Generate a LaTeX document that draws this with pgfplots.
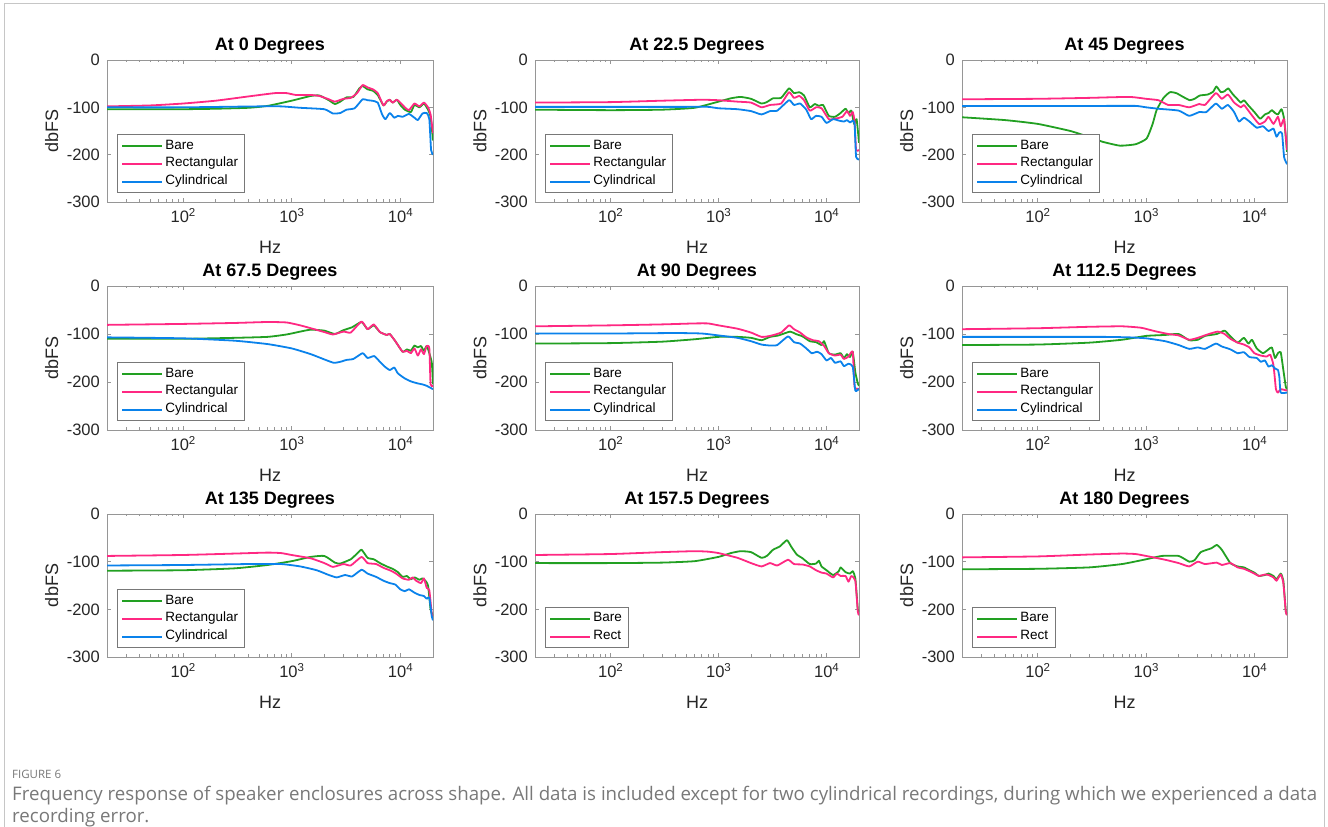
\documentclass[border=0pt]{standalone}
\usepackage{fontspec}
\setmainfont{Liberation Sans}
\newfontfamily\capfont{Open Sans}
\usepackage{pgfplots}
\pgfplotsset{compat=1.18}

\definecolor{cbare}{RGB}{34,160,34}
\definecolor{crect}{RGB}{255,40,130}
\definecolor{ccyl}{RGB}{10,130,235}
\definecolor{axgray}{RGB}{150,150,150}
\definecolor{legray}{RGB}{120,120,120}
\definecolor{ticktext}{RGB}{38,38,38}
\definecolor{captext}{RGB}{120,120,120}

\newcommand\pw[1]{10\raisebox{0.42em}{\fontsize{11.5}{12}\selectfont #1}}

\pgfplotsset{
  mypanel/.style={
    scale only axis,
    xmin=20, xmax=20000, ymin=-300, ymax=0,
    xtick={100,1000,10000},
    xticklabels={\pw{2},\pw{3},\pw{4}},
    minor xtick={30,40,50,60,70,80,90,200,300,400,500,600,700,800,900,2000,3000,4000,5000,6000,7000,8000,9000},
    ytick={-300,-200,-100,0},
    yticklabels={-300,-200,-100,0},
    tick align=inside,
    major tick length=4pt, minor tick length=2.5pt,
    axis line style={draw=axgray, line width=0.8pt},
    every tick/.style={draw=axgray, line width=0.8pt},
    xticklabel style={font=\fontsize{16.5}{19}\selectfont, text=ticktext, anchor=base, yshift=-21pt, inner sep=0pt},
    yticklabel style={font=\fontsize{16.5}{19}\selectfont, text=ticktext, anchor=east, inner sep=0pt, xshift=-7pt},
    xlabel={Hz}, ylabel={dbFS},
    xlabel style={font=\fontsize{18}{20}\selectfont, text=ticktext, at={(axis description cs:0.5,0)}, anchor=base, yshift=-52pt, inner sep=0pt},
    ylabel style={font=\fontsize{18}{20}\selectfont, text=ticktext, at={(axis description cs:-0.1503,0.5)}, anchor=base, inner sep=0pt},
    title style={font=\bfseries\fontsize{18}{20}\selectfont, at={(axis description cs:0.5,1)}, anchor=base, yshift=3pt, inner sep=0pt},
    legend style={at={(axis description cs:0,0)}, anchor=south west, xshift=10pt, yshift=9pt,
      draw=legray, fill=white, line width=0.8pt, font=\fontsize{13.5}{15}\selectfont,
      inner xsep=4pt, inner ysep=2pt, row sep=0pt,
      nodes={inner sep=2.2pt, text height=10pt, text depth=3.5pt}},
    legend cell align=left,
    legend image code/.code={\draw[##1] (0pt,0pt) -- (40pt,0pt);},
    every axis plot/.append style={line width=1.8pt, line join=round, smooth, tension=0.3},
  },
}

\begin{document}
\begin{tikzpicture}
\useasboundingbox (0pt,0pt) rectangle (1328pt,827pt);
\draw[draw=gray!45, line width=1pt] (4pt,0pt) -- (4pt,823pt) -- (1324pt,823pt) -- (1324pt,0pt);

% ---------- row 1 ----------
\begin{semilogxaxis}[mypanel, at={(107pt,767pt)}, anchor=north west, width=326pt, height=142pt, title={At 0 Degrees}]
\addplot[cbare] coordinates {(20,-104)(50,-104)(100,-104)(200,-103)(400,-101)(600,-97)(1000,-86)(1500,-76)(1800,-75)(2200,-85)(2500,-93)(2800,-88)(3200,-79)(3700,-78)(4200,-60)(4500,-55)(5000,-62)(5600,-65)(6200,-74)(7000,-96)(7500,-88)(8000,-84)(8500,-90)(9300,-84)(10000,-95)(11000,-105)(12500,-110)(13500,-95)(15000,-100)(16500,-92)(18000,-105)(19000,-120)(20000,-170)};
\addplot[crect] coordinates {(20,-98)(50,-96)(100,-92)(200,-86)(400,-77)(700,-70)(900,-70)(1100,-74)(1500,-74)(1800,-76)(2200,-83)(2500,-88)(3000,-82)(3500,-80)(4000,-70)(4500,-53)(5000,-58)(5600,-62)(6200,-70)(7000,-96)(7500,-87)(8000,-84)(8500,-90)(9300,-84)(10000,-90)(11000,-100)(12000,-106)(13500,-92)(15000,-98)(16500,-90)(18000,-100)(19000,-115)(20000,-155)};
\addplot[ccyl] coordinates {(20,-100)(100,-100)(500,-98)(800,-98)(1200,-101)(2000,-104)(2400,-113)(2800,-112)(3200,-105)(3800,-102)(4500,-83)(5000,-85)(5500,-86)(6200,-90)(6800,-115)(7300,-125)(8000,-112)(8800,-122)(9500,-118)(10500,-120)(12000,-114)(13500,-122)(14500,-127)(16000,-113)(17500,-112)(18500,-125)(19200,-190)(20000,-200)};
\legend{Bare,Rectangular,Cylindrical}
\end{semilogxaxis}

\begin{semilogxaxis}[mypanel, at={(535pt,767pt)}, anchor=north west, width=324pt, height=142pt, title={At 22.5 Degrees}]
\addplot[cbare] coordinates {(20,-105)(100,-106)(300,-105)(600,-101)(1000,-88)(1300,-81)(1600,-78)(2000,-82)(2500,-92)(2800,-89)(3200,-81)(3800,-80)(4500,-60)(5000,-70)(5600,-68)(6200,-75)(7000,-100)(7800,-93)(8500,-97)(9300,-95)(10500,-118)(12000,-120)(13500,-112)(15000,-103)(16000,-112)(17000,-107)(18000,-135)(19000,-125)(20000,-175)};
\addplot[crect] coordinates {(20,-90)(100,-89)(300,-86)(700,-84)(1000,-85)(1500,-88)(2000,-90)(2500,-100)(3000,-95)(3800,-92)(4500,-68)(5000,-80)(5600,-76)(6200,-85)(7000,-107)(8000,-100)(9000,-102)(10500,-125)(12000,-124)(14000,-120)(15500,-108)(16500,-118)(17500,-110)(18200,-130)(18800,-190)(20000,-190)};
\addplot[ccyl] coordinates {(20,-99)(100,-99)(500,-99)(800,-99)(1000,-102)(1500,-104)(2000,-108)(2500,-115)(3000,-108)(3500,-107)(4500,-85)(5000,-95)(5700,-92)(6500,-105)(7200,-125)(8000,-118)(9000,-120)(10000,-133)(11500,-125)(13000,-128)(14500,-130)(15500,-127)(16500,-132)(17500,-128)(18200,-135)(18800,-205)(20000,-210)};
\legend{Bare,Rectangular,Cylindrical}
\end{semilogxaxis}

\begin{semilogxaxis}[mypanel, at={(962pt,767pt)}, anchor=north west, width=325pt, height=142pt, title={At 45 Degrees}]
\addplot[cbare] coordinates {(20,-121)(50,-127)(100,-135)(200,-150)(300,-163)(400,-173)(574,-181)(800,-178)(1012,-166)(1150,-135)(1250,-106)(1450,-80)(1660,-68)(1900,-70)(2200,-78)(2530,-85)(2800,-82)(3140,-75)(3700,-73)(4160,-67)(4460,-56)(4900,-68)(5300,-66)(5730,-60)(6300,-72)(6920,-82)(7500,-90)(8000,-85)(8800,-96)(10000,-110)(11300,-124)(12500,-115)(13500,-112)(14500,-106)(15500,-112)(16500,-115)(17800,-104)(18800,-125)(20000,-194)};
\addplot[crect] coordinates {(20,-83)(100,-82)(300,-80)(700,-78)(1000,-82)(1300,-85)(1600,-95)(2000,-95)(2500,-100)(3100,-93)(3500,-95)(4400,-70)(5000,-82)(5700,-73)(6500,-90)(7500,-100)(8000,-95)(9000,-110)(11000,-135)(12500,-130)(13500,-120)(15000,-135)(16500,-120)(17500,-140)(18800,-125)(20000,-190)};
\addplot[ccyl] coordinates {(20,-97)(100,-97)(400,-97)(800,-97)(1000,-100)(1300,-103)(2000,-107)(2500,-118)(3100,-110)(3600,-110)(4400,-92)(5000,-103)(5700,-95)(6500,-110)(7200,-130)(8000,-122)(9000,-130)(10500,-143)(12000,-140)(13500,-150)(15000,-145)(16000,-162)(17000,-153)(18000,-155)(18800,-205)(20000,-220)};
\legend{Bare,Rectangular,Cylindrical}
\end{semilogxaxis}

% ---------- row 2 ----------
\begin{semilogxaxis}[mypanel, at={(107pt,541pt)}, anchor=north west, width=326pt, height=144pt, title={At 67.5 Degrees}]
\addplot[cbare] coordinates {(20,-110)(100,-110)(300,-108)(600,-106)(900,-101)(1200,-95)(1500,-91)(2000,-93)(2500,-100)(3000,-92)(3600,-86)(4400,-75)(5000,-90)(5700,-82)(6500,-96)(7500,-102)(8000,-100)(9000,-115)(10500,-137)(11500,-132)(12500,-135)(13500,-124)(14500,-128)(15500,-125)(16500,-135)(17500,-125)(18500,-140)(19500,-160)(20000,-205)};
\addplot[crect] coordinates {(20,-81)(100,-79)(300,-77)(600,-75)(900,-76)(1200,-82)(1500,-88)(2000,-96)(2400,-101)(3000,-95)(3500,-97)(4400,-74)(5000,-90)(5700,-80)(6500,-96)(7500,-102)(8000,-100)(9000,-115)(10500,-137)(11500,-135)(12500,-140)(13500,-130)(14500,-145)(15500,-132)(16500,-142)(17500,-125)(18500,-130)(19000,-205)(20000,-208)};
\addplot[ccyl] coordinates {(20,-107)(100,-109)(300,-114)(600,-121)(1000,-130)(1500,-142)(2000,-153)(2440,-160)(2800,-158)(3200,-154)(3700,-152)(4500,-140)(5000,-150)(5760,-146)(6500,-158)(7200,-168)(8000,-175)(8800,-170)(9500,-182)(10900,-192)(12000,-197)(13000,-200)(14500,-203)(16000,-205)(17500,-208)(20000,-215)};
\legend{Bare,Rectangular,Cylindrical}
\end{semilogxaxis}

\begin{semilogxaxis}[mypanel, at={(535pt,541pt)}, anchor=north west, width=324pt, height=144pt, title={At 90 Degrees}]
\addplot[cbare] coordinates {(20,-120)(100,-119)(300,-116)(600,-111)(1000,-106)(1500,-106)(2000,-108)(2500,-113)(3000,-106)(3600,-103)(4600,-95)(5200,-100)(6000,-105)(7000,-115)(8000,-117)(9000,-123)(9500,-115)(10500,-140)(12000,-143)(13500,-140)(14500,-150)(15500,-142)(16500,-148)(17500,-137)(18500,-180)(19500,-203)(20000,-208)};
\addplot[crect] coordinates {(20,-84)(100,-82)(300,-80)(600,-78)(800,-78)(1000,-82)(1500,-89)(2000,-97)(2500,-106)(3000,-104)(3800,-97)(4500,-82)(5000,-90)(5700,-97)(6500,-107)(7500,-113)(8500,-115)(9500,-125)(10500,-140)(12000,-145)(13500,-143)(14500,-152)(16000,-147)(17500,-137)(18200,-210)(20000,-214)};
\addplot[ccyl] coordinates {(20,-99)(100,-99)(400,-98)(700,-99)(1000,-103)(1500,-108)(2000,-115)(2500,-122)(3000,-124)(3500,-123)(4400,-105)(5000,-117)(5700,-120)(6500,-130)(7300,-140)(8200,-137)(9000,-142)(10000,-155)(11000,-150)(12000,-160)(13500,-157)(14500,-167)(16000,-162)(17500,-168)(18500,-218)(20000,-214)};
\legend{Bare,Rectangular,Cylindrical}
\end{semilogxaxis}

\begin{semilogxaxis}[mypanel, at={(962pt,541pt)}, anchor=north west, width=325pt, height=144pt, title={At 112.5 Degrees}]
\addplot[cbare] coordinates {(20,-123)(100,-122)(300,-118)(600,-112)(1000,-104)(1500,-102)(2000,-100)(2500,-113)(3000,-112)(3500,-104)(4500,-100)(5300,-93)(6000,-105)(7000,-118)(8000,-108)(8800,-120)(9500,-112)(10500,-130)(12000,-140)(13500,-132)(14500,-128)(15500,-150)(16500,-140)(17500,-138)(18500,-175)(19500,-210)(20000,-215)};
\addplot[crect] coordinates {(20,-90)(100,-88)(300,-85)(600,-84)(900,-87)(1200,-94)(1600,-100)(2000,-103)(2500,-112)(3000,-108)(3800,-100)(4600,-95)(5300,-100)(6000,-110)(7000,-118)(8000,-122)(9000,-128)(10000,-140)(11500,-145)(13000,-147)(14000,-143)(15000,-165)(15800,-215)(16500,-222)(17500,-215)(20000,-218)};
\addplot[ccyl] coordinates {(20,-106)(100,-106)(400,-106)(700,-107)(1000,-109)(1500,-115)(2000,-123)(2500,-131)(3000,-128)(3500,-131)(4400,-120)(5000,-126)(6000,-132)(7000,-140)(8000,-138)(9000,-148)(10500,-150)(11500,-158)(12500,-155)(13500,-168)(14500,-165)(15500,-172)(16500,-175)(17000,-190)(17500,-222)(20000,-222)};
\legend{Bare,Rectangular,Cylindrical}
\end{semilogxaxis}

% ---------- row 3 ----------
\begin{semilogxaxis}[mypanel, at={(107pt,313pt)}, anchor=north west, width=326pt, height=143pt, title={At 135 Degrees}]
\addplot[cbare] coordinates {(20,-119)(100,-118)(300,-114)(600,-107)(1000,-99)(1500,-90)(2000,-88)(2500,-102)(2800,-104)(3500,-95)(4000,-83)(4400,-75)(5000,-92)(5700,-95)(6500,-103)(7500,-110)(8500,-115)(9500,-122)(10500,-132)(11500,-130)(12500,-137)(13500,-133)(15000,-138)(16000,-135)(17000,-140)(18000,-150)(19000,-200)(20000,-215)};
\addplot[crect] coordinates {(20,-88)(100,-86)(300,-83)(600,-81)(800,-82)(1000,-86)(1500,-93)(2000,-103)(2400,-111)(3000,-105)(3500,-108)(4400,-90)(5000,-103)(6000,-105)(7000,-113)(8000,-118)(9000,-124)(10500,-135)(12000,-138)(13000,-133)(14000,-140)(15500,-145)(16500,-135)(17500,-155)(18500,-160)(19500,-210)(20000,-215)};
\addplot[ccyl] coordinates {(20,-108)(100,-107)(400,-105)(800,-105)(1200,-110)(1700,-118)(2200,-128)(2600,-133)(3100,-128)(3600,-131)(4400,-117)(5000,-125)(6000,-132)(7000,-140)(8000,-145)(9000,-148)(10000,-158)(11000,-162)(12000,-158)(13500,-165)(15000,-170)(16500,-172)(17500,-178)(18500,-175)(19500,-215)(20000,-223)};
\legend{Bare,Rectangular,Cylindrical}
\end{semilogxaxis}

\begin{semilogxaxis}[mypanel, at={(535pt,313pt)}, anchor=north west, width=324pt, height=143pt, title={At 157.5 Degrees}]
\addplot[cbare] coordinates {(20,-103)(100,-103)(300,-102)(600,-99)(1000,-90)(1300,-82)(1600,-78)(2000,-80)(2500,-92)(2800,-88)(3200,-75)(3700,-68)(4300,-55)(4700,-68)(5300,-85)(6000,-93)(7000,-105)(8000,-104)(8500,-98)(9000,-110)(10000,-118)(11500,-128)(13000,-120)(13500,-112)(15000,-122)(16500,-125)(17500,-120)(18500,-135)(19500,-200)(20000,-205)};
\addplot[crect] coordinates {(20,-86)(100,-84)(300,-80)(600,-78)(800,-79)(1000,-82)(1500,-92)(2000,-103)(2500,-110)(3000,-103)(3500,-108)(4400,-96)(5000,-105)(6000,-106)(7000,-110)(8000,-118)(9000,-123)(10000,-125)(11500,-133)(12500,-125)(13500,-130)(15000,-130)(16000,-142)(17000,-130)(18500,-140)(19500,-205)(20000,-212)};
\legend{Bare,Rect}
\end{semilogxaxis}

\begin{semilogxaxis}[mypanel, at={(962pt,313pt)}, anchor=north west, width=325pt, height=143pt, title={At 180 Degrees}]
\addplot[cbare] coordinates {(20,-116)(100,-115)(300,-112)(600,-105)(1000,-95)(1400,-88)(2000,-88)(2500,-100)(2800,-97)(3200,-80)(4000,-72)(4500,-65)(5000,-75)(6000,-103)(7000,-110)(8000,-112)(9000,-118)(10000,-123)(11000,-130)(12500,-128)(13500,-125)(15000,-130)(16000,-137)(17500,-125)(18500,-140)(19500,-205)(20000,-210)};
\addplot[crect] coordinates {(20,-91)(100,-89)(300,-85)(600,-83)(800,-84)(1000,-88)(1500,-96)(2000,-103)(2500,-110)(3000,-100)(3500,-105)(4500,-102)(5000,-107)(6000,-103)(7000,-112)(8000,-115)(9000,-120)(10000,-125)(11000,-130)(12500,-127)(13500,-128)(15000,-133)(16000,-140)(17500,-127)(18500,-145)(19500,-205)(20000,-212)};
\legend{Bare,Rect}
\end{semilogxaxis}

% ---------- caption ----------
\node[anchor=base west, inner sep=0pt, text=captext, font=\capfont\fontsize{11.5}{14}\selectfont] at (12pt,48pt) {FIGURE 6};
\node[anchor=base west, inner sep=0pt, text=captext, font=\capfont\fontsize{18.7}{20}\selectfont] at (12pt,26pt) {Frequency response of speaker enclosures across shape. All data is included except for two cylindrical recordings, during which we experienced a data};
\node[anchor=base west, inner sep=0pt, text=captext, font=\capfont\fontsize{18.7}{20}\selectfont] at (12pt,4pt) {recording error.};
\end{tikzpicture}
\end{document}
